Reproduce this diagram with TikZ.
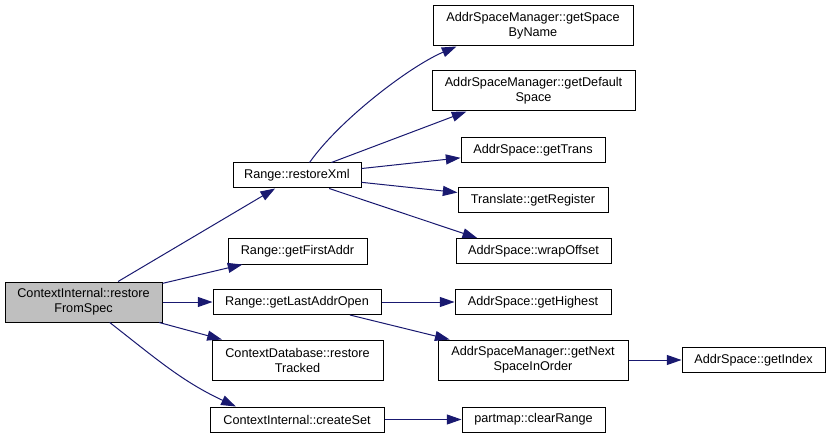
\documentclass[tikz,border=0pt]{standalone}
\usepackage{fontspec}
\setmainfont{Liberation Sans}
\usetikzlibrary{arrows.meta}
\definecolor{edgeblue}{HTML}{191970}
\definecolor{rootgray}{HTML}{BFBFBF}
\tikzset{
  fn/.style={draw=black, line width=0.75pt, fill=white, inner sep=0pt,
    minimum height=18.75pt, align=center,
    font=\fontsize{9.5}{11.25}\selectfont},
  fntwo/.style={fn, minimum height=30pt},
  call/.style={draw=edgeblue, line width=0.75pt,
    -{Triangle[length=11pt,width=7.5pt]}},
}
\begin{document}
\begin{tikzpicture}[x=0.75pt, y=-0.75pt]
    \useasboundingbox (0,0) rectangle (831,438);
    % Caller
    \node[fntwo, fill=rootgray, minimum width=117.75pt] (spec) at (83.5,302) {ContextInternal::restore\\FromSpec};
    % First level
    \node[fn, minimum width=96pt] (xml) at (297,175.5) {Range::restoreXml};
    \node[fn, minimum width=104.25pt] (first) at (297.5,251.5) {Range::getFirstAddr};
    \node[fn, minimum width=126pt] (lastopen) at (297,302) {Range::getLastAddrOpen};
    \node[fntwo, minimum width=128.25pt] (tracked) at (297.5,360) {ContextDatabase::restore\\Tracked};
    \node[fn, minimum width=130.5pt] (createset) at (297,419.5) {ContextInternal::createSet};
    % Second level
    \node[fntwo, minimum width=150pt] (byname) at (533,26) {AddrSpaceManager::getSpace\\ByName};
    \node[fntwo, minimum width=152.25pt] (default) at (533.5,91) {AddrSpaceManager::getDefault\\Space};
    \node[fn, minimum width=108pt] (trans) at (533,150) {AddrSpace::getTrans};
    \node[fn, minimum width=112.5pt] (register) at (533,200.5) {Translate::getRegister};
    \node[fn, minimum width=116.25pt] (wrap) at (533.5,251) {AddrSpace::wrapOffset};
    \node[fn, minimum width=117pt] (highest) at (533,302) {AddrSpace::getHighest};
    \node[fntwo, minimum width=142.5pt] (nextspace) at (533,360) {AddrSpaceManager::getNext\\SpaceInOrder};
    \node[fn, minimum width=107.25pt] (clear) at (533.5,419.5) {partmap::clearRange};
    % Third level
    \node[fn, minimum width=107.25pt] (index) at (753.5,360) {AddrSpace::getIndex};
    % Calls from restoreFromSpec
    \draw[call] (spec) -- (xml);
    \draw[call] (spec) -- (first);
    \draw[call] (spec) -- (lastopen);
    \draw[call] (spec) -- (tracked);
    \draw[call] (spec.-38) to[out=-38, in=155] (createset.168);
    % Calls from restoreXml
    \draw[call] (xml.46) to[out=55, in=203, looseness=0.7] (byname.195);
    \draw[call] (xml) -- (default.197);
    \draw[call] (xml) -- (trans);
    \draw[call] (xml) -- (register);
    \draw[call] (xml.-22) -- (wrap.167);
    % Calls further down
    \draw[call] (lastopen) -- (highest);
    \draw[call] (lastopen) -- (nextspace);
    \draw[call] (nextspace) -- (index);
    \draw[call] (createset) -- (clear);
\end{tikzpicture}
\end{document}
